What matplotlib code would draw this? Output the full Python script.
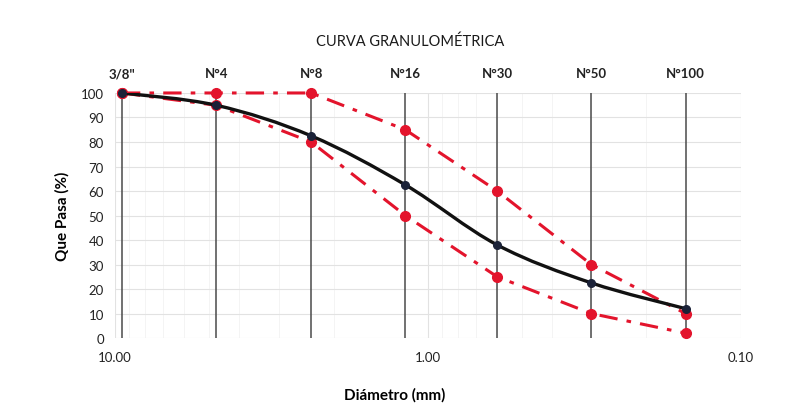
import numpy as np
import matplotlib
matplotlib.use("Agg")
import matplotlib.pyplot as plt
from matplotlib.path import Path
from matplotlib.patches import PathPatch
from matplotlib.ticker import FixedLocator, LogLocator, NullFormatter

plt.rcParams['font.family'] = ['Lato', 'DejaVu Sans']

# sieve data
sieves = ['3/8"', 'N°4', 'N°8', 'N°16', 'N°30', 'N°50', 'N°100']
diam_mm = [9.5, 4.75, 2.36, 1.18, 0.6, 0.3, 0.15]
passing = [100, 95, 82.5, 62.5, 38, 22.5, 12]
upper_limit = [100, 100, 100, 85, 60, 30, 10]
lower_limit = [100, 95, 80, 50, 25, 10, 2]
x_ticks = [10.0, 1.0, 0.1]

red = '#e3142c'
dark = '#1b2238'


def smooth_path(xs, ys):
    # catmull-rom style bezier, built in log10(x) space like excel's smoothed line
    lx = np.log10(xs)
    ys = np.asarray(ys, dtype=float)
    n = len(lx)
    verts = [(xs[0], ys[0])]
    codes = [Path.MOVETO]
    for i in range(n - 1):
        i0 = max(i - 1, 0)
        i3 = min(i + 2, n - 1)
        c1x = lx[i] + (lx[i + 1] - lx[i0]) / 6
        c1y = ys[i] + (ys[i + 1] - ys[i0]) / 6
        c2x = lx[i + 1] - (lx[i3] - lx[i]) / 6
        c2y = ys[i + 1] - (ys[i3] - ys[i]) / 6
        verts += [(10 ** c1x, c1y), (10 ** c2x, c2y), (xs[i + 1], ys[i + 1])]
        codes += [Path.CURVE4] * 3
    return Path(verts, codes)


fig = plt.figure(figsize=(7.85, 4.14), dpi=100)
ax = fig.add_axes([0.1465, 0.181, 0.797, 0.592])

ax.set_xscale('log')
ax.set_xlim(10, 0.1)
ax.set_ylim(0, 100)

# grid
ax.set_yticks(np.arange(0, 101, 10))
ax.xaxis.set_major_locator(FixedLocator(x_ticks))
ax.xaxis.set_minor_locator(LogLocator(base=10, subs=np.arange(2, 10)))
ax.xaxis.set_minor_formatter(NullFormatter())
ax.set_xticklabels(['%.2f' % v for v in x_ticks])
ax.grid(True, which='major', color='#e2e2e2', linewidth=0.8)
ax.grid(True, which='minor', axis='x', color='#f4f4f4', linewidth=0.7)
ax.set_axisbelow(True)
for s in ax.spines.values():
    s.set_visible(False)
ax.tick_params(which='both', length=0, labelsize=9.5, colors='#222222')
ax.tick_params(axis='x', pad=9)
ax.tick_params(axis='y', pad=8)

# sieve lines and labels
ax.vlines(diam_mm, 0, 100, colors='#4a4a4a', linewidth=1.1, zorder=2)
for d, name in zip(diam_mm, sieves):
    ax.text(d, 108, name, ha='center', va='center', fontsize=9.5,
            fontweight='bold', color='#222222', clip_on=False)

# limits
for lim in (upper_limit, lower_limit):
    ax.plot(diam_mm, lim, color=red, linewidth=2.2, linestyle=(0, (6, 3, 1.5, 3)),
            marker='o', markersize=7, markerfacecolor=red, markeredgecolor=red,
            zorder=3, clip_on=False)

# sample curve
ax.add_patch(PathPatch(smooth_path(diam_mm, passing), facecolor='none',
                       edgecolor='#111111', linewidth=2.4, zorder=4))
ax.plot(diam_mm, passing, linestyle='none', marker='o', markersize=5.5,
        color=dark, zorder=5, clip_on=False)

fig.text(0.523, 0.898, 'CURVA GRANULOMÉTRICA', ha='center', va='center',
         fontsize=10.5, color='#1a1a1a')
ax.set_xlabel('Diámetro (mm)', fontsize=11, fontweight='bold')
ax.xaxis.set_label_coords(0.447, -0.2)
ax.set_ylabel('Que Pasa (%)', fontsize=11, fontweight='bold', labelpad=8)

fig.savefig('out.png', dpi=100)
